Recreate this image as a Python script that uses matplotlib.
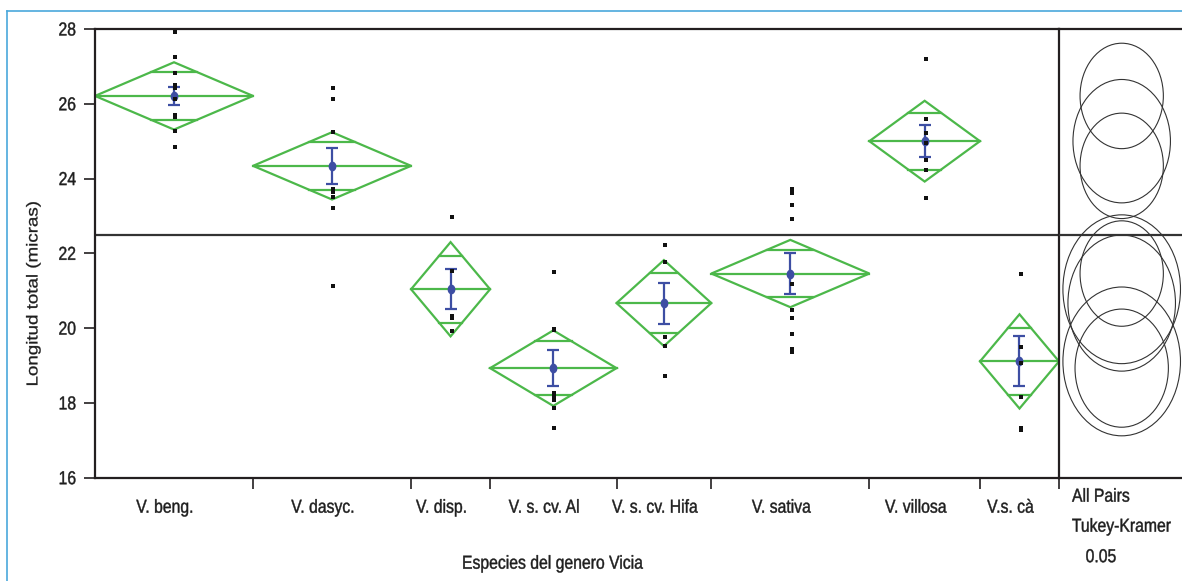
import numpy as np
import matplotlib
matplotlib.use("Agg")
import matplotlib.pyplot as plt
from matplotlib.patches import Ellipse, Polygon
from matplotlib.path import Path
from matplotlib.lines import Line2D
from matplotlib.patheffects import AbstractPathEffect
from matplotlib.transforms import Affine2D

# ---- data: longitud total (micras) by species ----
species = ["V. beng.", "V. dasyc.", "V. disp.", "V. s. cv. Al",
           "V. s. cv. Hifa", "V. sativa", "V. villosa", "V.s. cà"]
n_obs = [20, 20, 10, 16, 12, 20, 14, 10]
means = [26.21, 24.34, 21.04, 18.93, 20.67, 21.46, 25.00, 19.11]
ci_half = [0.90, 0.90, 1.26, 1.01, 1.15, 0.90, 1.08, 1.26]
se_half = [0.25, 0.48, 0.53, 0.48, 0.55, 0.54, 0.42, 0.67]
tukey_radius = [1.41, 1.41, 1.99, 1.58, 1.82, 1.41, 1.65, 1.99]
grand_mean = 22.48
y_ticks = [16, 18, 20, 22, 24, 26, 28]

obs_beng = [27.91, 27.24, 26.81, 26.50, 26.41, 26.13, 25.70, 25.64, 25.28, 24.85]
obs_dasyc = [26.41, 26.13, 25.25, 23.73, 23.64, 23.51, 23.21, 21.14]
obs_disp = [22.98, 21.53, 20.32, 20.28, 19.92]
obs_al = [21.49, 19.98, 19.94, 18.26, 18.19, 18.07, 17.87, 17.33]
obs_hifa = [22.21, 21.78, 19.76, 19.51, 18.73]
obs_sativa = [23.72, 23.62, 23.28, 22.93, 21.19, 20.48, 20.28, 19.85, 19.45, 19.36]
obs_villosa = [27.19, 25.58, 25.21, 24.96, 24.49, 24.24, 23.48]
obs_ca = [21.44, 19.49, 19.07, 18.16, 17.33, 17.28]
observations = [obs_beng, obs_dasyc, obs_disp, obs_al, obs_hifa,
                obs_sativa, obs_villosa, obs_ca]

# ---- styling ----
GREEN = "#4cb84a"
BLUE = "#3d4ea3"
DARK = "#231f20"
INK = "#1e1e1e"
FS = 13.5          # points (18.75 px at 100 dpi)
plt.rcParams["font.family"] = ["Liberation Sans", "DejaVu Sans"]


class Condensed(AbstractPathEffect):
    """Draw text glyphs narrowed horizontally about a pivot edge."""

    def __init__(self, factor=0.84, pivot="center", stroke=0.3):
        super().__init__()
        self.factor = factor
        self.pivot = pivot
        self.stroke = stroke

    def draw_path(self, renderer, gc, tpath, affine, rgbFace=None):
        ext = affine.transform_path(tpath).get_extents()
        px = {"left": ext.x0, "center": (ext.x0 + ext.x1) / 2, "right": ext.x1}[self.pivot]
        squeeze = Affine2D().translate(-px, 0).scale(self.factor, 1).translate(px, 0)
        gc0 = renderer.new_gc()
        gc0.copy_properties(gc)
        gc0.set_linewidth(self.stroke)
        gc0.set_foreground(rgbFace)
        renderer.draw_path(gc0, tpath, affine + squeeze, rgbFace)
        gc0.restore()


W, H = 1182, 581
fig = plt.figure(figsize=(W / 100, H / 100), dpi=100)


def box(x0, y0, x1, y1):
    return [x0 / W, 1 - y1 / H, (x1 - x0) / W, (y1 - y0) / H]


def ftext(x, y, s, ha="left", **kw):
    # x, y in pixels from the top-left; y is the text baseline
    return fig.text(x / W, 1 - y / H, s, ha=ha, va="baseline", fontsize=FS, color=INK,
                    path_effects=[Condensed(pivot=ha)], **kw)


ax = fig.add_axes(box(95, 29, 1059, 477.7))
axc = fig.add_axes(box(1059, 29, 1190, 477.7), sharey=ax)
axc.patch.set_visible(False)

edges = np.concatenate([[0], np.cumsum(n_obs)])
centers = (edges[:-1] + edges[1:]) / 2
ax.set_xlim(0, edges[-1])
ax.set_ylim(16, 28)

# means diamonds with overlap marks
k = np.sqrt(2) / 2
for i in range(len(species)):
    lo, hi, c = edges[i], edges[i + 1], centers[i]
    m, h = means[i], ci_half[i]
    ax.add_patch(Polygon([(lo, m), (c, m + h), (hi, m), (c, m - h)], closed=True,
                         fill=False, ec=GREEN, lw=1.6, zorder=2))
    ax.plot([lo, hi], [m, m], color=GREEN, lw=1.6, zorder=2)
    half = (hi - lo) / 2 * (1 - k)
    for s in (1, -1):
        ax.plot([c - half, c + half], [m + s * k * h] * 2, color=GREEN, lw=1.6, zorder=2)

# observations
for c, vals in zip(centers, observations):
    ax.plot([c + 0.15] * len(vals), vals, "s", ms=2.4, color="#111111", mew=0, zorder=4)

# mean +/- std error
theta = np.linspace(0, 2 * np.pi, 40)
dot = Path(np.column_stack([0.8 * np.cos(theta), np.sin(theta)]))
ax.errorbar(centers, means, yerr=se_half, fmt="none", ecolor=BLUE,
            elinewidth=1.6, capsize=4.3, capthick=1.6, zorder=3)
ax.plot(centers, means, ls="none", marker=dot, ms=7, color=BLUE, mew=0, zorder=3)

ax.axhline(grand_mean, color="#333333", lw=1.6, zorder=1)

# axes frame and ticks
for side in ("left", "top", "bottom", "right"):
    ax.spines[side].set_linewidth(1.6)
    ax.spines[side].set_color(DARK)
ax.set_yticks(y_ticks)
ax.tick_params(axis="y", direction="out", length=8, width=1.2, color=DARK,
               labelsize=FS, labelcolor=INK, pad=5.5)
for lab in ax.get_yticklabels():
    lab.set_path_effects([Condensed(pivot="right")])
ax.set_xticks(edges[1:])
ax.set_xticklabels([])
ax.tick_params(axis="x", direction="out", length=8, width=1.2, color=DARK)

for c, name in zip(centers, species):
    ax.annotate(name, xy=(c, 0), xycoords=("data", "axes fraction"),
                xytext=(-6.5, -25.2), textcoords="offset points",
                ha="center", va="baseline", fontsize=FS, color=INK,
                path_effects=[Condensed(pivot="center")])

ax.set_ylabel("Longitud total (micras)", fontsize=FS, color=INK)
ax.yaxis.label.set_path_effects([Condensed(pivot="center", stroke=0.2)])
ax.yaxis.set_label_coords(38.2 / W, 0.5, transform=fig.transFigure)
ax.yaxis.label.set_rotation_mode("anchor")
ax.yaxis.label.set_va("baseline")
ax.yaxis.label.set_y(1 - 294 / H)

# comparison circles panel (Tukey-Kramer)
px_y = (477.7 - 29) / 12.0
px_x = 0.79 * px_y
cx = 62.7 / px_x
axc.set_xlim(-cx, (1190 - 1059) / px_x - cx)
for m, r in zip(means, tukey_radius):
    axc.add_patch(Ellipse((0, m), 2 * r, 2 * r, fill=False, ec="#333333", lw=0.8))
axc.axhline(grand_mean, color="#333333", lw=1.6)
axc.set_xticks([])
axc.tick_params(axis="y", left=False, labelleft=False)
for side in ("left", "right"):
    axc.spines[side].set_visible(False)
for side in ("top", "bottom"):
    axc.spines[side].set_linewidth(1.6)
    axc.spines[side].set_color(DARK)

ftext(552, 568.7, "Especies del genero Vicia", ha="center")
ftext(1072, 501.7, "All Pairs")
ftext(1171, 531.7, "Tukey-Kramer", ha="right")
ftext(1085.5, 562.2, "0.05")

# light blue frame
fig.add_artist(Line2D([7.3 / W, 1], [1 - 11.3 / H] * 2, color="#4aa8dc", lw=1.2))
fig.add_artist(Line2D([7.3 / W] * 2, [0, 1 - 11.3 / H], color="#4aa8dc", lw=1.2))

fig.savefig("out.png", dpi=100)
